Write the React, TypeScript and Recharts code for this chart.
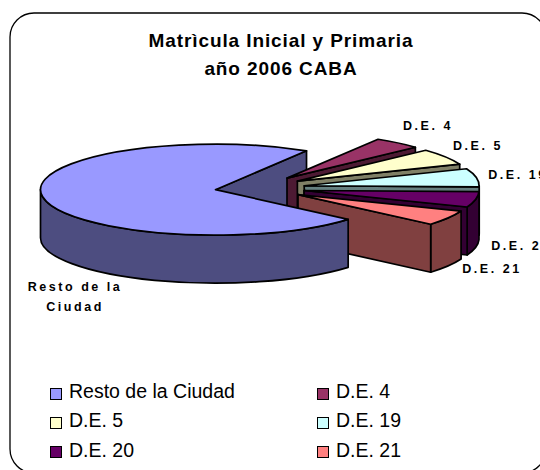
import { PieChart, Pie, Legend } from "recharts"

const categories = ["Resto de la Ciudad", "D.E. 4", "D.E. 5", "D.E. 19", "D.E. 20", "D.E. 21"]
const shares = [72.4, 4.4, 5.8, 6.5, 5.5, 5.4]
const topColors = ["#9999FF", "#993366", "#FFFFCC", "#CCFFFF", "#660066", "#FF8080"]
const sideColors = ["#4D4D80", "#4D1A33", "#808066", "#668080", "#330033", "#804040"]
const titleLines = ["Matrìcula Inicial y Primaria", "año 2006 CABA"]

const data = categories.map((name, i) => ({ name, value: shares[i], fill: topColors[i] }))

// fake 3D: squashed circle, walls hang below the top face
const TILT = 0.26
const DEPTH = 48
const explode = [41, 49, 49, 49, 49, 49]
const labelSpots = [
  { x: 75, y: 291, lines: ["Resto de la", "Ciudad"] },
  { x: 428, y: 130, lines: ["D.E. 4"] },
  { x: 478, y: 150, lines: ["D.E. 5"] },
  { x: 518, y: 179, lines: ["D.E. 19"] },
  { x: 521, y: 250, lines: ["D.E. 20"] },
  { x: 492, y: 273, lines: ["D.E. 21"] },
]

const RAD = Math.PI / 180

function slicePaths(p: any) {
  const { cx, cy, outerRadius: r, startAngle, endAngle, index } = p
  const mid = ((startAngle + endAngle) / 2) * RAD
  const ox = cx + explode[index] * Math.cos(mid)
  const oy = cy - explode[index] * Math.sin(mid) * TILT
  const pt = (deg: number, dy = 0): [number, number] => [
    ox + r * Math.cos(deg * RAD),
    oy - r * Math.sin(deg * RAD) * TILT + dy,
  ]
  const arc = (from: number, to: number, dy = 0) => {
    const [x, y] = pt(to, dy)
    const large = Math.abs(to - from) > 180 ? 1 : 0
    const sweep = to < from ? 1 : 0
    return `A${r} ${r * TILT} 0 ${large} ${sweep} ${x} ${y}`
  }
  const a = pt(startAngle)
  const b = pt(endAngle)
  const top = `M${ox} ${oy}L${a[0]} ${a[1]}${arc(startAngle, endAngle)}Z`
  const cut = (q: [number, number]) =>
    `M${ox} ${oy}L${q[0]} ${q[1]}l0 ${DEPTH}L${ox} ${oy + DEPTH}Z`

  // outer wall only where the rim faces the viewer (math angles below 0)
  let wall = ""
  for (const turn of [0, -360]) {
    const from = Math.min(startAngle - turn, 0)
    const to = Math.max(endAngle - turn, -180)
    if (from > to) {
      const s = pt(from)
      const e = pt(to, DEPTH)
      wall += `M${s[0]} ${s[1]}${arc(from, to)}L${e[0]} ${e[1]}${arc(to, from, DEPTH)}Z`
    }
  }
  return { top, wall, endCut: cut(b), startCut: cut(a) }
}

const line = { stroke: "#000", strokeWidth: 1.7, strokeLinejoin: "round" as const }

// back layer: the visible cut of the big slice, then the small slices
const BackSlice = (p: any) => {
  const { top, wall, endCut } = slicePaths(p)
  const side = sideColors[p.index]
  if (p.index === 0) return <path d={endCut} fill={side} {...line} />
  return (
    <g>
      <path d={wall} fill={side} {...line} />
      <path d={endCut} fill={side} {...line} />
      <path d={top} fill={p.fill} {...line} />
    </g>
  )
}

// front layer: the big slice overlaps the inner ends of the small ones
const FrontSlice = (p: any) => {
  if (p.index !== 0) return <g />
  const { top, wall } = slicePaths(p)
  return (
    <g>
      <path d={wall} fill={sideColors[0]} {...line} />
      <path d={top} fill={p.fill} {...line} />
    </g>
  )
}

const renderLabel = ({ index }: any) => {
  const s = labelSpots[index]
  return (
    <text
      key={index}
      x={s.x}
      y={s.y}
      textAnchor="middle"
      fontFamily="Liberation Sans"
      fontSize={12.5}
      fontWeight="bold"
      letterSpacing={2.55}
      fill="#000"
    >
      {s.lines.map((l, i) => (
        <tspan key={l} x={s.x} dy={i === 0 ? 0 : 20}>
          {l}
        </tspan>
      ))}
    </text>
  )
}

// both pies report to the legend, keep one entry per category
const LegendGrid = ({ payload }: any) => {
  const rows = categories.map((name) => (payload ?? []).find((e: any) => e.value === name))
  return (
    <div
      style={{
        display: "grid",
        gridTemplateColumns: "267px 200px",
        gridAutoRows: "29.3px",
        fontFamily: "Liberation Sans",
        fontSize: 19.5,
        color: "#000",
      }}
    >
      {rows.map((e: any, i: number) => (
        <div key={i} style={{ display: "flex", alignItems: "center", height: 29 }}>
          <span
            style={{
              width: 10,
              height: 10,
              marginRight: 7,
              marginTop: 4,
              background: topColors[i],
              border: "1.7px solid #000",
            }}
          />
          {e?.value ?? categories[i]}
        </div>
      ))}
    </div>
  )
}

export default function App() {
  return (
    <div style={{ position: "fixed", left: 0, top: 0, width: 540, height: 470, overflow: "hidden", background: "#fff" }}>
      <PieChart width={540} height={470} margin={{ top: 0, right: 0, bottom: 0, left: 0 }}>
        <rect x={10} y={13} width={536} height={460} rx={24} ry={24} fill="#fff" stroke="#000" strokeWidth={1.3} />
        {titleLines.map((t, i) => (
          <text
            key={t}
            x={281}
            y={47 + i * 28}
            textAnchor="middle"
            fontFamily="Liberation Sans"
            fontSize={19}
            fontWeight="bold"
            letterSpacing={0.9}
          >
            {t}
          </text>
        ))}
        <Pie
          data={data}
          dataKey="value"
          nameKey="name"
          cx={256}
          cy={188}
          outerRadius={175}
          startAngle={-40.7}
          endAngle={-400.7}
          stroke="none"
          shape={BackSlice}
          legendType="none"
          isAnimationActive={false}
        />
        <Pie
          data={data}
          dataKey="value"
          nameKey="name"
          cx={256}
          cy={188}
          outerRadius={175}
          startAngle={-40.7}
          endAngle={-400.7}
          stroke="none"
          shape={FrontSlice}
          label={renderLabel}
          labelLine={false}
          isAnimationActive={false}
        />
        <Legend content={LegendGrid} wrapperStyle={{ left: 50, top: 377, width: 480, bottom: "auto" }} />
      </PieChart>
    </div>
  )
}
